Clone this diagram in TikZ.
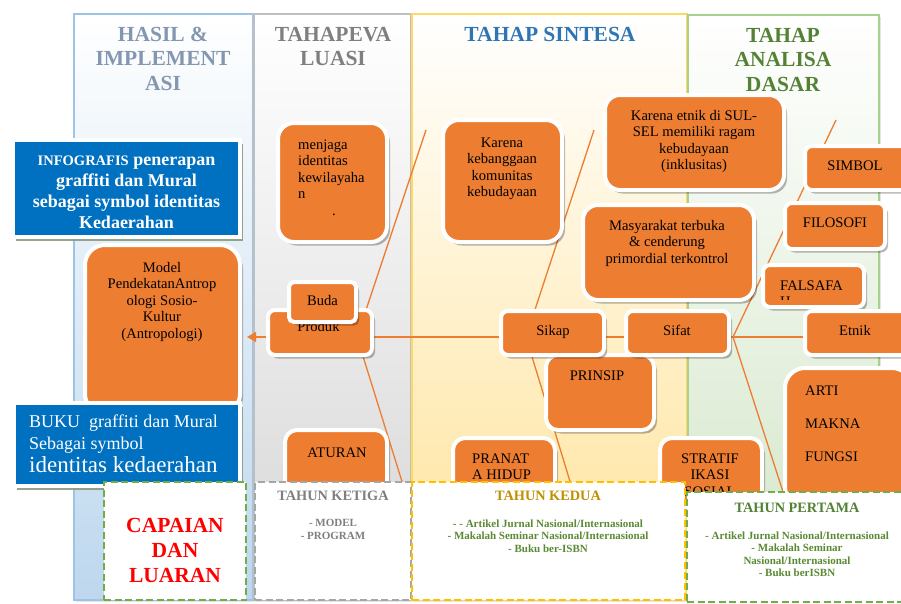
\documentclass[tikz,border=0pt]{standalone}
\usepackage{fontspec}
\setmainfont{Liberation Serif}
\usetikzlibrary{shadows,arrows.meta}
\definecolor{orng}{HTML}{ED7D31}
\definecolor{bluebx}{HTML}{0070C0}
\definecolor{hdA}{HTML}{8497B0}
\definecolor{hdB}{HTML}{7F7F7F}
\definecolor{hdC}{HTML}{2E75B6}
\definecolor{hdD}{HTML}{548235}
\definecolor{colAb}{HTML}{9DC3E6}
\definecolor{colAf}{HTML}{BDD7EE}
\definecolor{colBb}{HTML}{BFBFBF}
\definecolor{colBf}{HTML}{D6D6D6}
\definecolor{colCb}{HTML}{FFD966}
\definecolor{colCf}{HTML}{FFE39A}
\definecolor{colDb}{HTML}{A9D18E}
\definecolor{colDf}{HTML}{D3E6C8}
\definecolor{redcap}{HTML}{FF0000}
\definecolor{goldt}{HTML}{BF9000}
\definecolor{itemg}{HTML}{5B8A35}
\definecolor{bshadow}{HTML}{8C9A80}
\definecolor{dgreen}{HTML}{70AD47}
\definecolor{dgray}{HTML}{A6A6A6}
\definecolor{dyellow}{HTML}{FFC000}
\newcommand\fhead{\fontsize{21.5}{24.5}\selectfont\bfseries}
\newcommand\fbx{\fontsize{14.6}{16.5}\selectfont}
\newcommand\finfo{\fontsize{18}{20.8}\selectfont\bfseries}
\newcommand\fbuku{\fontsize{18}{21.3}\selectfont}
\newcommand\fcap{\fontsize{21.5}{25}\selectfont\bfseries}
\newcommand\fyr{\fontsize{14.3}{16}\selectfont\bfseries}
\newcommand\fitm{\fontsize{11}{12.4}\selectfont\bfseries}
\newcommand\obox[6]{\node[obx, rounded corners=#6pt, minimum width={#4-#2+4}, minimum height={#5-#3+4}] (#1) at ({#2-2},{#3-2}) {};}
\newcommand\bbox[5]{\node[bbx, minimum width={#4-#2+4}, minimum height={#5-#3+4}] (#1) at ({#2-2},{#3-2}) {};}
\begin{document}
\begin{tikzpicture}[x=1pt,y=-1pt,
  ln/.style={draw=orng, line width=1.3pt},
  obx/.style={fill=orng, draw=white, line width=4pt, inner sep=0pt, outer sep=0pt, anchor=north west,
    drop shadow={shadow xshift=3pt, shadow yshift=-3.5pt, fill=black, opacity=.28}},
  bbx/.style={fill=bluebx, draw=white, line width=4.5pt, inner sep=0pt, outer sep=0pt, anchor=north west,
    drop shadow={shadow xshift=3pt, shadow yshift=-4pt, fill=bshadow, opacity=.9}},
  colx/.style={line width=1.2pt, drop shadow={shadow xshift=2pt, shadow yshift=-2pt, opacity=.2}},
  dbx/.style={fill=white, line width=2pt, dash pattern=on 7pt off 3.5pt, inner sep=0pt, outer sep=0pt, anchor=north west},
  hd/.style={font=\fhead, align=center, anchor=north, yshift=17.15pt, inner sep=0pt},
  bt/.style={font=\fbx, align=center, anchor=north, yshift=11.55pt, inner sep=0pt, text=black},
  btl/.style={bt, align=left, anchor=north west},
  bt1/.style={font=\fbx, anchor=base, inner sep=0pt, text=black},
  itm/.style={font=\fitm, align=center, anchor=north, yshift=8.68pt, inner sep=0pt},
  yr/.style={font=\fyr, anchor=base, inner sep=0pt}
]
\useasboundingbox (0,0) rectangle (901,603);
\fill[white] (0,0) rectangle (901,603);

% columns
\path[colx, draw=colAb, top color=white, bottom color=colAf] (74,14) rectangle (253,600);
\path[colx, draw=colBb, top color=white, bottom color=colBf] (254,14) rectangle (411,600);
\path[colx, draw=colCb, top color=white, bottom color=colCf, line width=1.8pt] (412,14) rectangle (687,600);
\path[colx, draw=colDb, top color=white, bottom color=colDf, line width=1.6pt] (688,15) rectangle (879,600);

% headers
\node[hd, text=hdA] (hA) at (163,41) {\strut HASIL \&\\IMPLEMENT\\ASI};
\node[hd, text=hdB] (hB) at (333,41) {\strut TAHAPEVA\\LUASI};
\node[hd, text=hdC] (hC) at (550,41) {\strut TAHAP SINTESA};
\node[hd, text=hdD] (hD) at (783,42) {\strut TAHAP\\ANALISA\\DASAR};

% boxes (drawn first as nodes for connectors)
\obox{model}{87}{247}{238}{412}{20}

% fishbone coordinates
\coordinate (r1a) at (426,130);
\coordinate (j1) at (357,337);
\coordinate (r1b) at (404,488);
\coordinate (r2a) at (594,130);
\coordinate (j2) at (526,337);
\coordinate (r2b) at (572,488);
\coordinate (r3a) at (836,120);
\coordinate (j3) at (733,337);
\coordinate (r3b) at (784,495);
\coordinate (spR) at (807,337);

\draw[ln] (r1a) -- (j1) -- (r1b);
\draw[ln] (r2a) -- (j2) -- (r2b);
\draw[ln] (r3a) -- (j3) -- (r3b);
\draw[ln, -{Triangle[length=9pt,width=10pt]}, shorten >=7pt] (spR) -- (spR -| model.east);

\node[bt] (tmodel) at (162,272) {\strut Model\\PendekatanAntrop\\ologi  Sosio-\\Kultur\\(Antropologi)};

\obox{menjaga}{280}{125}{385}{240}{16}
\node[btl] (tmenjaga) at (298,149) {\strut menjaga\\identitas\\kewilayaha\\n\\\hspace*{34pt}.};

\obox{produk}{270}{312}{370}{353}{7}
\node[bt1] (tproduk) at (318.5,331.7) {Produk};
\obox{buda}{291}{284}{354}{320}{5}
\node[bt1] (tbuda) at (322.5,305) {Buda};

\obox{aturan}{287}{432}{385}{505}{12}
\node[bt1] (taturan) at (337,457) {ATURAN};

\obox{bangga}{445}{122}{560}{240}{16}
\node[bt] (tbangga) at (502,147) {\strut Karena\\kebanggaan\\komunitas\\kebudayaan};

\obox{etnikss}{607}{97}{782}{188}{15}
\node[bt] (tetnikss) at (694,120) {\strut Karena etnik di SUL-\\SEL memiliki ragam\\kebudayaan\\(inklusitas)};

\obox{masy}{585}{207}{752}{298}{15}
\node[bt] (tmasy) at (667,230) {\strut Masyarakat terbuka\\\& cenderung\\primordial terkontrol};

\obox{simbol}{807}{148}{910}{188}{7}
\node[bt1] (tsimbol) at (855,170) {SIMBOL};

\obox{filosofi}{787}{205}{883}{247}{7}
\node[bt1] (tfilosofi) at (835,227) {FILOSOFI};

\obox{falsafah}{765}{267}{862}{305}{7}
\begin{scope}
\clip (765,267) rectangle (862,299.5);
\node[btl] (tfalsafah) at (780,290) {\strut FALSAFA\\H};
\end{scope}

\obox{prinsip}{548}{357}{652}{428}{12}
\node[bt1] (tprinsip) at (597,380) {PRINSIP};

\obox{sikap}{503}{313}{602}{353}{7}
\node[bt1] (tsikap) at (553,335) {Sikap};
\obox{sifat}{628}{313}{727}{353}{7}
\node[bt1] (tsifat) at (677,335) {Sifat};
\obox{etnik}{807}{313}{910}{353}{7}
\node[bt1] (tetnik) at (855,335) {Etnik};

\obox{arti}{787}{370}{910}{505}{20}
\node[btl] (tarti) at (805,395) {\strut ARTI\\[16.8pt]MAKNA\\[16.8pt]FUNGSI};

\obox{pranata}{455}{440}{553}{505}{12}
\node[btl] (tpranata) at (472,463) {\strut PRANAT\\A HIDUP};

\obox{stratif}{662}{440}{760}{505}{12}
\node[bt] (tstratif) at (710,463) {\strut STRATIF\\IKASI\\SOSIAL};

% blue boxes
\bbox{infog}{15}{142}{238}{235}
\node[font=\finfo, text=white, align=center, anchor=north, yshift=14.56pt, inner sep=0pt] (tinfog) at (126.5,165.5)
  {\strut{\fontsize{14.5}{20.8}\selectfont INFOGRAFIS} penerapan\\graffiti dan Mural\\sebagai symbol identitas\\Kedaerahan};
\bbox{buku}{16}{405}{238}{484}
\node[font=\fbuku, text=white, align=left, anchor=north west, yshift=14.91pt, inner sep=0pt] (tbuku) at (29,427.7)
  {\strut BUKU\ \ graffiti dan Mural\\Sebagai symbol\\[2.4pt]{\fontsize{23}{26}\selectfont identitas kedaerahan}};

% bottom boxes
\node[dbx, draw=dgreen, minimum width=142, minimum height=118] (capaian) at (104,482) {};
\node[font=\fcap, text=redcap, align=center, anchor=north, yshift=17.5pt, inner sep=0pt] (tcapaian) at (175,532) {\strut CAPAIAN\\DAN\\LUARAN};

\node[dbx, draw=dgray, minimum width=156, minimum height=118] (ketiga) at (255,482) {};
\node[yr, text=hdB] (tketiga) at (333,500.7) {TAHUN KETIGA};
\node[itm, text=hdB] (iketiga) at (333,526.7) {\strut- MODEL\\- PROGRAM};

\node[dbx, draw=dyellow, minimum width=273, minimum height=118] (kedua) at (412,482) {};
\node[yr, text=goldt] (tkedua) at (548,500.7) {TAHUN KEDUA};
\node[itm, text=itemg] (ikedua) at (548,527) {\strut- - Artikel Jurnal Nasional/Internasional\\- Makalah Seminar Nasional/Internasional\\- Buku ber-ISBN};

\node[dbx, draw=dgreen, minimum width=225, minimum height=110] (pertama) at (687,492) {};
\node[yr, text=hdD] (tpertama) at (797,512) {TAHUN PERTAMA};
\node[itm, text=itemg] (ipertama) at (797,539) {\strut- Artikel Jurnal Nasional/Internasional\\- Makalah Seminar\\Nasional/Internasional\\- Buku berISBN};
\end{tikzpicture}
\end{document}
